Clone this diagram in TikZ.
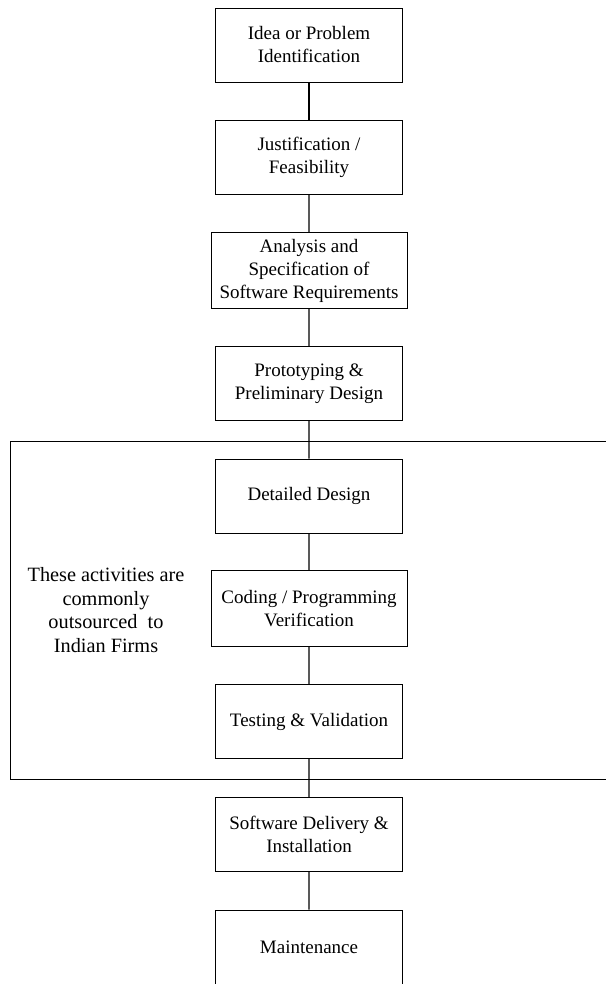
\documentclass[tikz,border=0pt]{standalone}
\usepackage{fontspec}
\setmainfont{Liberation Serif}
\usepackage{tikz}
\tikzset{
  treenode/.style = {align=center, inner sep=4pt, text centered,
    font=\fontsize{19}{23}\selectfont},
  stage/.style = {treenode, rectangle, draw=black, line width=0.8pt,
    minimum width=187pt, minimum height=74pt},% etape du cycle
  stage_w/.style = {stage, minimum width=196pt, minimum height=76pt},% etape large
  note/.style = {align=center, inner sep=0pt,
    font=\fontsize{20.3}{23.5}\selectfont}% texte du cadre
}
\begin{document}
\begin{tikzpicture}[level distance=112.75pt,
  edge from parent/.style={draw, line width=1.1pt}]
\useasboundingbox (0,0) rectangle (605pt,-984pt);
% cadre des activites sous-traitees
\draw[line width=0.8pt] (640pt,-441pt) -- (10pt,-441pt) -- (10pt,-779pt) -- (640pt,-779pt);
\node [note] (outsrc) at (106pt,-610pt) {These activities are\\ commonly\\ outsourced~ to\\ Indian Firms};
\node [stage] (idea) at (309pt,-45pt) {Idea or Problem\\ Identification}
    child{ node [stage] (justif) {Justification /\\ Feasibility}
      child{ node [stage_w] (analysis) {Analysis and\\ Specification of\\ Software Requirements}
        child{ node [stage] (proto) {Prototyping \&\\ Preliminary Design}
          child{ node [stage] (design) {Detailed Design}
            child{ node [stage_w] (coding) {Coding / Programming\\ Verification}
              child{ node [stage] (testing) {Testing \& Validation}
                child{ node [stage] (delivery) {Software Delivery \&\\ Installation}
                  child{ node [stage] (maint) {Maintenance}}
                }
              }
            }
          }
        }
      }
    }
;
\end{tikzpicture}
\end{document}
